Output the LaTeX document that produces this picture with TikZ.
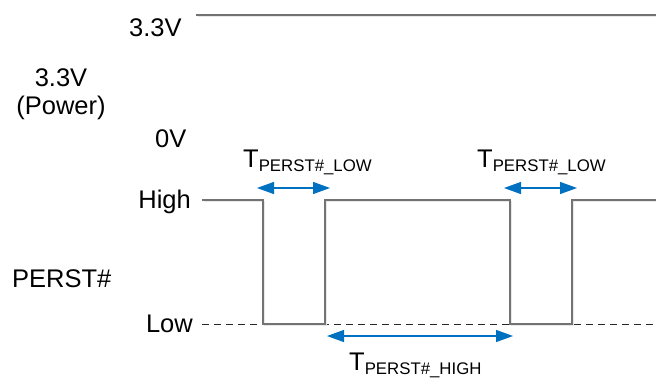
\documentclass[tikz,border=0pt]{standalone}
\usepackage{fontspec}
\setmainfont{Liberation Sans}
\usetikzlibrary{arrows.meta}
\definecolor{wavegray}{RGB}{115,115,115}
\definecolor{shadegray}{RGB}{232,232,232}
\definecolor{timeblue}{RGB}{0,112,192}
\newcommand{\tsub}[1]{T\raisebox{-4.5pt}{\fontsize{16.8}{20}\selectfont #1}}

\begin{document}
\begin{tikzpicture}[x=1pt, y=-1pt,
    lbl/.style={inner sep=0pt, font=\fontsize{25.5}{30}\selectfont},
    wave/.style={draw=wavegray, line width=1.1pt},
    shade/.style={draw=shadegray, line width=1.2pt},
    timing/.style={{Triangle[length=17pt,width=12pt]}-{Triangle[length=17pt,width=12pt]}, draw=timeblue, line width=1.2pt}]
    \useasboundingbox (0,0) rectangle (656,378);

    % Rail labels on the left
    \node[lbl, anchor=base west] (vtop) at (129,36) {3.3V};
    \node[lbl, anchor=base, align=center] (vpow) at (61,114) {3.3V\\[-2pt](Power)};
    \node[lbl, anchor=base west] (vzero) at (155,147) {0V};
    \node[lbl, anchor=base east] (high) at (191,208) {High};
    \node[lbl, anchor=base west] (perst) at (12,287) {PERST\#};
    \node[lbl, anchor=base east] (low) at (193,332) {Low};

    % 3.3V supply line
    \coordinate (pw0) at (196,15);
    \coordinate (pw1) at (656,15);
    \draw[shade, transform canvas={shift={(1.6,1.6)}}] (pw0) -- (pw1);
    \draw[wave] (pw0) -- (pw1);

    % Low reference level
    \draw[black!85, line width=0.9pt, dash pattern=on 7pt off 5pt] (202,324) -- (656,324);

    % PERST# waveform
    \coordinate (p0) at (202,200);
    \coordinate (p1) at (263,200);
    \coordinate (p2) at (263,324);
    \coordinate (p3) at (325,324);
    \coordinate (p4) at (325,200);
    \coordinate (p5) at (510,200);
    \coordinate (p6) at (510,324);
    \coordinate (p7) at (572,324);
    \coordinate (p8) at (572,200);
    \coordinate (p9) at (656,200);
    \draw[shade, transform canvas={shift={(1.6,1.6)}}] (p0) -- (p1) -- (p2) -- (p3) -- (p4) -- (p5) -- (p6) -- (p7) -- (p8) -- (p9);
    \draw[wave] (p0) -- (p1) -- (p2) -- (p3) -- (p4) -- (p5) -- (p6) -- (p7) -- (p8) -- (p9);

    % Timing arrows
    \coordinate (la0) at (257,188);
    \coordinate (la1) at (330,188);
    \coordinate (lb0) at (504,188);
    \coordinate (lb1) at (577,188);
    \coordinate (ha0) at (327,336);
    \coordinate (ha1) at (513,336);
    \draw[timing] (la0) -- (la1);
    \draw[timing] (lb0) -- (lb1);
    \draw[timing] (ha0) -- (ha1);

    % Timing labels
    \node[lbl, anchor=base west] (tlowa) at (243,167) {\tsub{PERST\#\_LOW}};
    \node[lbl, anchor=base west] (tlowb) at (477,167) {\tsub{PERST\#\_LOW}};
    \node[lbl, anchor=base west] (thigh) at (349,370) {\tsub{PERST\#\_HIGH}};

\end{tikzpicture}
\end{document}
